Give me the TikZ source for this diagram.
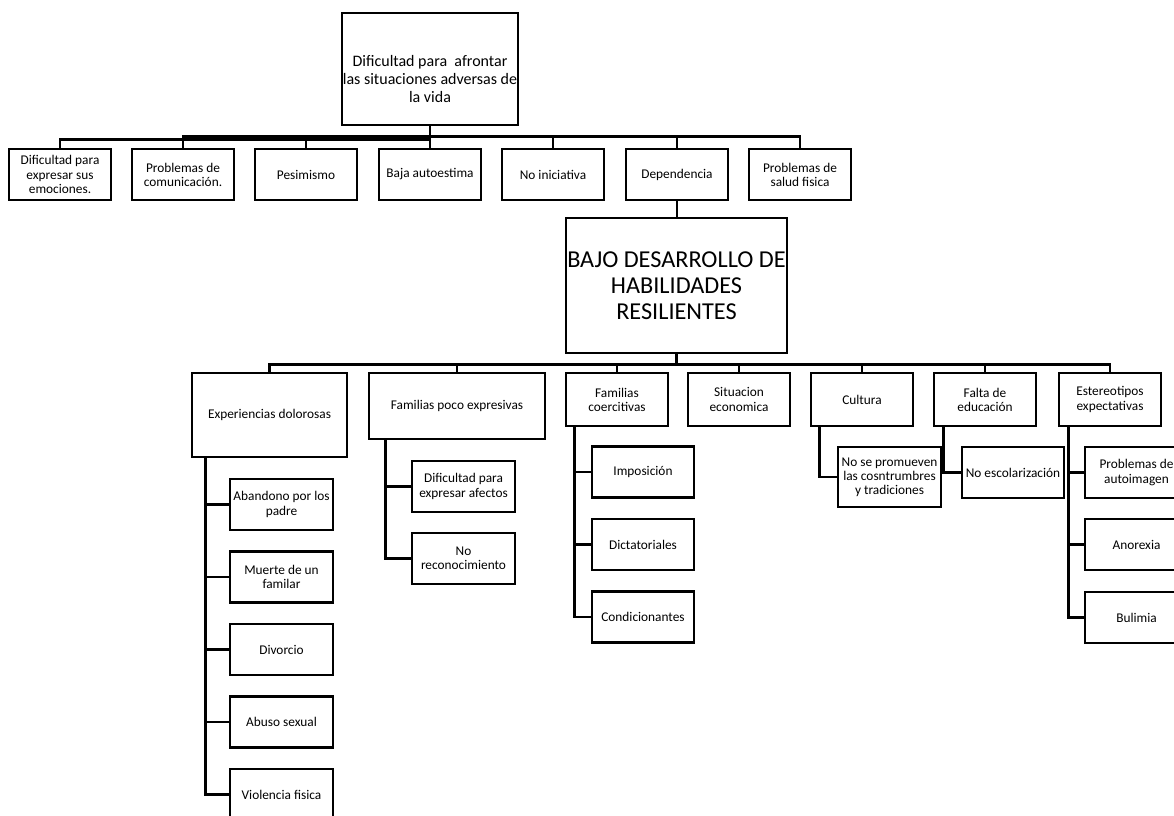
\documentclass[tikz,border=0pt]{standalone}
\usepackage{fontspec}
\setmainfont{Carlito}
\usepackage{tikz}

\begin{document}
\begin{tikzpicture}[x=0.75pt,y=-0.75pt,
  box/.style={draw,line width=2.1pt,inner sep=0pt,align=center,
    font=\fontsize{10}{10.6}\selectfont,
    minimum width=102*0.75pt,minimum height=51*0.75pt},
  link/.style={line width=2.1pt}]
\useasboundingbox (0,0) rectangle (1174,816);

% problema central y efecto
\node [box,minimum width=176*0.75pt,minimum height=112*0.75pt] (top) at (430,69) {};
\node [align=center,inner sep=0pt,font=\fontsize{12}{13.5}\selectfont] (toptext) at ([yshift=-7.5pt]top.center) {Dificultad para~ afrontar\\las situaciones adversas de\\la vida};
\node [box] (e1) at (60,174.5) {Dificultad para\\expresar sus\\emociones.};
\node [box] (e2) at (183,174.5) {Problemas de\\comunicación.};
\node [box] (e3) at (306,174.5) {Pesimismo};
\node [box] (e4) at (430,174.5) {Baja autoestima};
\node [box] (e5) at (553,174.5) {No iniciativa};
\node [box] (e6) at (677,174.5) {Dependencia};
\node [box] (e7) at (800,174.5) {Problemas de\\salud fisica};
\node [box,minimum width=221*0.75pt,minimum height=135*0.75pt,font=\fontsize{18.2}{19.5}\selectfont] (big) at (676.5,285.5) {BAJO DESARROLLO DE\\HABILIDADES\\RESILIENTES};

\draw [link] (top.south) -- ++(0,13) -| (e1.north);
\foreach \n in {2,...,7}
  \draw [link] (top.south) -- ++(0,10) -| (e\n.north);
\draw [link] (e6.south) -- (e6.south |- big.north);

% causas
\node [box,minimum width=155*0.75pt,minimum height=84*0.75pt] (exp) at (269.5,415) {Experiencias dolorosas};
\node [box,minimum width=176*0.75pt,minimum height=66*0.75pt] (fam) at (457,406) {Familias poco expresivas};
\node [box,minimum height=53*0.75pt] (coer) at (617,399.5) {Familias\\coercitivas};
\node [box,minimum height=53*0.75pt] (econ) at (739,399.5) {Situacion\\economica};
\node [box,minimum height=53*0.75pt] (cult) at (862,399.5) {Cultura};
\node [box,minimum height=53*0.75pt] (edu) at (985,399.5) {Falta de\\educación};
\node [box,minimum height=53*0.75pt] (est) at (1110,399.5) {Estereotipos\\expectativas};

\foreach \n in {exp,fam,coer,econ,cult,edu,est}
  \draw [link] (big.south) -- ++(0,10) -| (\n.north);

% subcausas
\node [box,minimum width=103*0.75pt] (exp1) at (281.5,504.5) {Abandono por los\\padre};
\node [box,minimum width=103*0.75pt] (exp2) at (281.5,577) {Muerte de un\\familar};
\node [box,minimum width=103*0.75pt] (exp3) at (281.5,649.5) {Divorcio};
\node [box,minimum width=103*0.75pt] (exp4) at (281.5,722) {Abuso sexual};
\node [box,minimum width=103*0.75pt] (exp5) at (281.5,794.5) {Violencia fisica};
\foreach \n in {1,...,5}
  \draw [link] (exp.south west) ++(15,0) |- (exp\n.west);

\node [box,minimum width=103*0.75pt] (fam1) at (463.5,486.5) {Dificultad para\\expresar afectos};
\node [box,minimum width=103*0.75pt] (fam2) at (463.5,558.5) {No\\reconocimiento};
\foreach \n in {1,2}
  \draw [link] (fam.south west) ++(18,0) |- (fam\n.west);

\node [box] (coer1) at (643,472) {Imposición};
\node [box] (coer2) at (643,544.5) {Dictatoriales};
\node [box] (coer3) at (643,617) {Condicionantes};
\foreach \n in {1,2,3}
  \draw [link] (coer.south west) ++(10,0) |- (coer\n.west);

\node [box,minimum width=103*0.75pt,minimum height=60*0.75pt] (cult1) at (889.5,477) {No se promueven\\las cosntrumbres\\y tradiciones};
\draw [link] (cult.south west) ++(10,0) |- (cult1.west);

\node [box] (edu1) at (1013,472.5) {No escolarización};
\draw [link] (edu.south west) ++(11,0) |- (edu1.west);

\node [box,minimum width=103*0.75pt] (est1) at (1136.5,472.5) {Problemas de\\autoimagen};
\node [box,minimum width=103*0.75pt] (est2) at (1136.5,544.5) {Anorexia};
\node [box,minimum width=103*0.75pt] (est3) at (1136.5,617.5) {Bulimia};
\foreach \n in {1,2,3}
  \draw [link] (est.south west) ++(11,0) |- (est\n.west);
\end{tikzpicture}
\end{document}
